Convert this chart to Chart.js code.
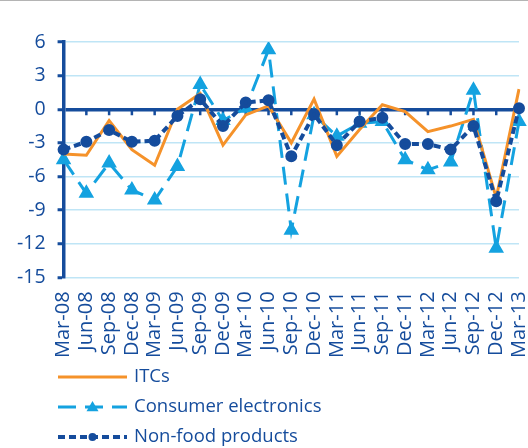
<!DOCTYPE html>
<html>
<head>
<meta charset="utf-8">
<script src="https://cdn.jsdelivr.net/npm/chart.js@4.4.1/dist/chart.umd.min.js"></script>
<style>
  html, body { margin: 0; padding: 0; background: #fff; }
  #wrap { width: 528px; height: 447px; border-top: 1px solid #b4b4b4; }
</style>
</head>
<body>
<div id="wrap"><canvas id="chart" width="528" height="447"></canvas></div>
<script>
const quarters = ["Mar-08", "Jun-08", "Sep-08", "Dec-08", "Mar-09", "Jun-09", "Sep-09",
  "Dec-09", "Mar-10", "Jun-10", "Sep-10", "Dec-10", "Mar-11", "Jun-11", "Sep-11",
  "Dec-11", "Mar-12", "Jun-12", "Sep-12", "Dec-12", "Mar-13"];

const itcs = [-4.0, -4.1, -1.0, -3.6, -5.0, 0.0, 1.4, -3.2, -0.5, 0.3, -3.0,
  0.9, -4.2, -1.8, 0.4, -0.2, -2.0, -1.5, -0.9, -7.9, 1.8];
const consumerElectronics = [-4.5, -7.5, -4.8, -7.2, -8.1, -5.1, 2.2, -1.0, 0.1, 5.3, -10.8,
  -0.5, -2.4, -1.25, -1.1, -4.5, -5.4, -4.7, 1.7, -12.4, -1.1];
const nonFood = [-3.6, -2.9, -1.85, -2.9, -2.8, -0.6, 0.9, -1.5, 0.6, 0.8, -4.2,
  -0.45, -3.2, -1.1, -0.75, -3.1, -3.1, -3.6, -1.5, -8.2, 0.1];

const yMin = -15, yMax = 6, yStep = 3;

const navy = "#154c9c";
const orange = "#f5922a";
const sky = "#14a2e0";
const gridBlue = "#bfe5f6";
const font = "Open Sans";

// ticks hanging under the zero line, one per quarter
const zeroTicks = {
  id: "zeroTicks",
  beforeDatasetsDraw(chart) {
    const ctx = chart.ctx;
    const x = chart.scales.x;
    const y0 = chart.scales.y.getPixelForValue(0);
    ctx.save();
    ctx.strokeStyle = navy;
    ctx.lineWidth = 2.5;
    for (let i = 1; i < quarters.length; i++) {
      const px = x.getPixelForValue(i);
      ctx.beginPath();
      ctx.moveTo(px, y0);
      ctx.lineTo(px, y0 + 6);
      ctx.stroke();
    }
    ctx.restore();
  }
};

// legend stacked one item per row under the chart
const stackedLegend = {
  id: "stackedLegend",
  afterDraw(chart) {
    const ctx = chart.ctx;
    const rows = [376, 406, 436];
    ctx.save();
    chart.data.datasets.forEach((ds, row) => {
      const y = rows[row];
      const x1 = 58, x2 = 127;
      ctx.strokeStyle = ds.borderColor;
      ctx.lineWidth = ds.borderWidth;
      ctx.setLineDash(ds.borderDash || []);
      ctx.beginPath();
      ctx.moveTo(x1, y);
      ctx.lineTo(x2, y);
      ctx.stroke();
      ctx.setLineDash([]);
      const mx = (x1 + x2) / 2;
      if (ds.pointRadius > 0) {
        ctx.fillStyle = ds.pointBackgroundColor;
        ctx.beginPath();
        if (ds.pointStyle === "triangle") {
          const r = 6;
          ctx.moveTo(mx, y - r);
          ctx.lineTo(mx + r, y + r * 0.7);
          ctx.lineTo(mx - r, y + r * 0.7);
          ctx.closePath();
        } else {
          ctx.arc(mx, y, 4, 0, Math.PI * 2);
        }
        ctx.fill();
      }
      ctx.fillStyle = navy;
      ctx.font = "18.5px '" + font + "'";
      ctx.textBaseline = "middle";
      ctx.textAlign = "left";
      ctx.fillText(ds.label, 134, y);
    });
    ctx.restore();
  }
};

new Chart(document.getElementById("chart"), {
  type: "line",
  data: {
    labels: quarters,
    datasets: [
      {
        label: "ITCs",
        data: itcs,
        borderColor: orange,
        backgroundColor: orange,
        borderWidth: 3,
        pointRadius: 0,
        tension: 0,
        order: 1
      },
      {
        label: "Consumer electronics",
        data: consumerElectronics,
        borderColor: sky,
        backgroundColor: sky,
        pointBackgroundColor: sky,
        pointBorderColor: sky,
        borderWidth: 3,
        borderDash: [18, 9],
        pointStyle: "triangle",
        pointRadius: 6,
        tension: 0,
        order: 2
      },
      {
        label: "Non-food products",
        data: nonFood,
        borderColor: navy,
        backgroundColor: navy,
        pointBackgroundColor: navy,
        pointBorderColor: navy,
        borderWidth: 4,
        borderDash: [7, 4],
        pointStyle: "circle",
        pointRadius: 4,
        tension: 0,
        order: 0
      }
    ]
  },
  options: {
    responsive: false,
    animation: false,
    layout: { padding: { top: 41, left: 5, right: 7, bottom: 76 } },
    plugins: {
      legend: { display: false },
      tooltip: { enabled: false }
    },
    scales: {
      x: {
        grid: { display: false, drawTicks: false },
        border: { display: false },
        ticks: {
          color: navy,
          font: { family: font, size: 20 },
          maxRotation: 90,
          minRotation: 90,
          autoSkip: false,
          padding: 14
        },
        afterFit(scale) {
          scale.paddingLeft = 0;
          scale.paddingRight = 0;
        }
      },
      y: {
        min: yMin,
        max: yMax,
        ticks: {
          stepSize: yStep,
          color: navy,
          font: { family: font, size: 19.5 },
          padding: 12
        },
        grid: {
          color: (c) => (c.tick && c.tick.value === 0 ? navy : gridBlue),
          lineWidth: (c) => (c.tick && c.tick.value === 0 ? 3.5 : 1.5),
          tickColor: navy,
          tickLength: 6,
          tickWidth: 3
        },
        border: { color: navy, width: 3.5 }
      }
    }
  },
  plugins: [zeroTicks, stackedLegend]
});
</script>
</body>
</html>
